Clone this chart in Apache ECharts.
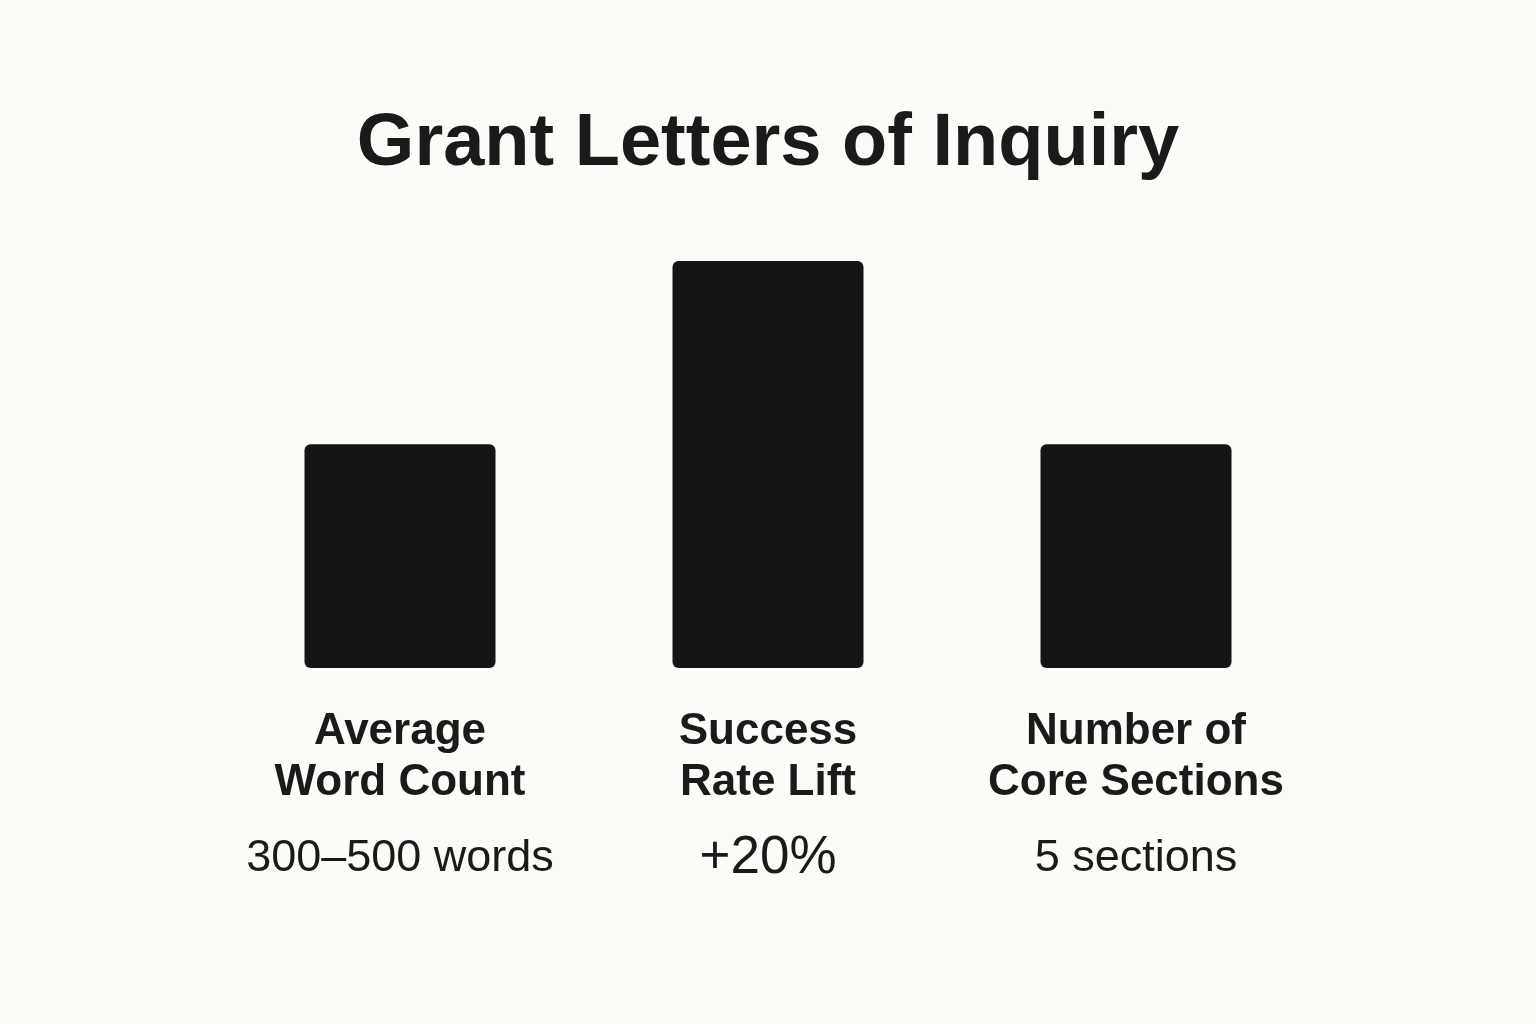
<!DOCTYPE html>
<html>
<head>
<meta charset="utf-8">
<style>
html,body{margin:0;padding:0;background:#fcfbf7;}
#chart{width:1536px;height:1024px;}
</style>
<script src="https://cdn.jsdelivr.net/npm/echarts@6/dist/echarts.min.js"></script>
</head>
<body>
<div id="chart"></div>
<script>
const titleText = 'Grant Letters of Inquiry';
const categories = ['Average\nWord Count', 'Success\nRate Lift', 'Number of\nCore Sections'];
const barValues = [55, 100, 55];
const valueLabels = ['300–500 words', '+20%', '5 sections'];

const chart = echarts.init(document.getElementById('chart'));
chart.setOption({
  backgroundColor: '#fcfbf7',
  animation: false,
  title: {
    text: titleText,
    left: 'center',
    top: 95,
    textStyle: {
      fontFamily: 'Liberation Sans',
      fontWeight: 'bold',
      fontSize: 74,
      lineHeight: 90,
      color: '#1a1a1a'
    }
  },
  grid: { left: 216, right: 216, top: 261, bottom: 356, containLabel: false },
  xAxis: {
    type: 'category',
    data: categories,
    axisLine: { show: false },
    axisTick: { show: false },
    axisLabel: {
      margin: 38,
      interval: 0,
      formatter: function (value, idx) {
        const lines = value.split('\n').map(l => '{n|' + l + '}');
        const vs = idx === 1 ? 'p' : 'v';
        return lines.join('\n') + '\n{' + vs + '|' + valueLabels[idx] + '}';
      },
      rich: {
        n: { fontFamily: 'Liberation Sans', fontWeight: 'bold', fontSize: 44, lineHeight: 51, color: '#1a1a1a', align: 'center' },
        v: { fontFamily: 'Liberation Sans', fontWeight: 'normal', fontSize: 45, lineHeight: 101, color: '#1a1a1a', align: 'center' },
        p: { fontFamily: 'Liberation Sans', fontWeight: 'normal', fontSize: 53, lineHeight: 101, color: '#1a1a1a', align: 'center' }
      }
    }
  },
  yAxis: { type: 'value', min: 0, max: 100, show: false, splitLine: { show: false } },
  series: [{
    type: 'bar',
    data: barValues,
    barWidth: 191,
    itemStyle: { color: '#141414', borderRadius: 6 }
  }]
});
</script>
</body>
</html>
